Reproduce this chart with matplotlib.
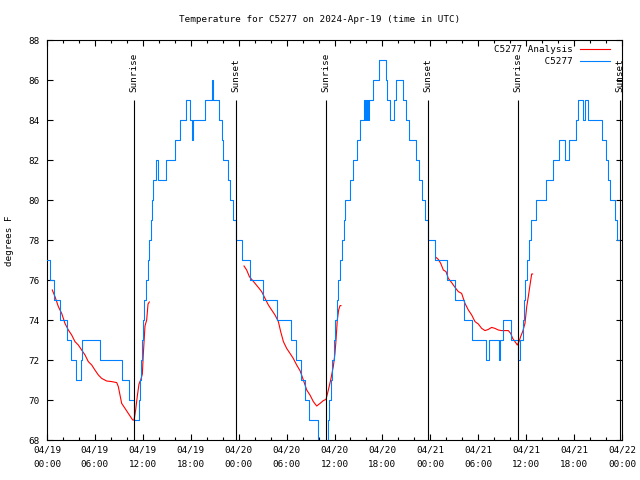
import numpy as np
import matplotlib
matplotlib.use('Agg')
import matplotlib.pyplot as plt
from matplotlib.lines import Line2D

plt.rcParams['font.family'] = ['DejaVu Sans Mono', 'DejaVu Sans']
FS = 6.7

# ---------------- data (hours since 2024-04-19 00:00 UTC) ----------------
blue_hours = [0.00, 0.38, 0.88, 1.60, 2.54, 3.05, 3.60, 4.20, 4.40, 6.60, 9.35, 10.30,
              10.95, 11.50, 11.65, 11.77, 11.90, 12.02, 12.15, 12.36, 12.60, 12.77, 12.98,
              13.15, 13.31, 13.60, 13.94, 14.95, 16.00, 16.60, 17.35, 17.85, 18.10, 18.30,
              19.80, 20.60, 20.75, 21.50, 21.95, 22.10, 22.65, 22.95, 23.30, 23.70, 24.40,
              25.40, 27.10, 28.80, 30.60, 31.18, 31.80, 32.30, 32.85, 33.90, 35.02, 35.19,
              35.35, 35.50, 35.69, 35.88, 36.06, 36.28, 36.48, 36.69, 36.90, 37.15, 37.35,
              37.94, 38.36, 38.78, 39.19, 39.70, 39.80, 39.92, 40.02, 40.12, 40.22, 40.33,
              40.85, 41.55, 42.45, 42.60, 43.00, 43.50, 43.75, 44.55, 44.95, 45.30, 46.24,
              46.62, 46.96, 47.37, 47.71, 48.62, 50.09, 51.06, 52.18, 53.22, 54.97, 55.31,
              56.56, 56.76, 57.10, 58.06, 58.98, 59.25, 59.55, 59.75, 59.90, 60.10, 60.30,
              60.60, 61.20, 62.50, 63.30, 64.15, 64.85, 65.35, 66.20, 66.50, 67.10, 67.40,
              67.70, 69.50, 69.95, 70.25, 70.50, 71.10, 71.40, 71.75]
blue_temps = [77, 76, 75, 74, 73, 72, 71, 72, 73, 72, 71, 70,
              69, 70, 71, 72, 73, 74, 75, 76, 77, 78, 79,
              80, 81, 82, 81, 82, 83, 84, 85, 84, 83, 84,
              85, 86, 85, 84, 83, 82, 81, 80, 79, 78, 77,
              76, 75, 74, 73, 72, 71, 70, 69, 67, 68, 69,
              70, 71, 72, 73, 74, 75, 76, 77, 78, 79, 80,
              81, 82, 83, 84, 85, 84, 85, 84, 85, 84, 85,
              86, 87, 86, 85, 84, 85, 86, 85, 84, 83, 82,
              81, 80, 79, 78, 77, 76, 75, 74, 73, 72, 73,
              72, 73, 74, 73, 72, 73, 74, 75, 76, 77, 78,
              79, 80, 81, 82, 83, 82, 83, 84, 85, 84, 85,
              84, 83, 82, 81, 80, 79, 78, 78]

red_hours = [0.66, 1.00, 1.42, 1.84, 2.25, 2.67, 3.09, 3.50, 3.92, 4.34, 4.76, 5.17, 5.60,
             6.00, 6.43, 6.85, 7.47, 8.10, 8.73, 8.93, 9.35, 9.77, 10.18, 10.73, 10.90,
             11.10, 11.31, 11.52, 11.73, 11.94, 12.06, 12.27, 12.48, 12.65, 12.81,
             np.nan,
             24.67, 25.00, 25.34, 25.63, 26.05, 26.46, 26.88, 27.30, 27.72, 28.13, 28.55,
             28.97, 29.26, 29.60, 30.01, 30.43, 30.84, 31.26, 31.68, 32.10, 32.52, 32.93,
             33.35, 33.77, 34.19, 34.60, 34.94, 35.23, 35.52, 35.85, 36.06, 36.19, 36.35,
             36.52, 36.69, 36.81,
             np.nan,
             48.71, 49.00, 49.30, 49.63, 49.96, 50.25, 50.67, 51.09, 51.50, 51.92, 52.34,
             52.76, 53.18, 53.59, 54.01, 54.43, 54.85, 55.26, 55.68, 56.10, 56.51, 56.93,
             57.35, 57.77, 58.06, 58.31, 58.60, 58.89, 59.10, 59.31, 59.56, 59.85, 60.07,
             60.27, 60.48, 60.69, 60.81]
red_temps = [75.5, 75.17, 74.67, 74.33, 73.83, 73.5, 73.25, 72.92, 72.75, 72.5, 72.25, 71.92, 71.75,
             71.5, 71.25, 71.08, 70.95, 70.92, 70.87, 70.67, 69.83, 69.58, 69.33, 69.0, 69.0,
             69.5, 70.2, 70.8, 71.0, 71.3, 72.3, 73.7, 74.0, 74.8, 74.9,
             np.nan,
             76.7, 76.5, 76.17, 76.03, 75.83, 75.63, 75.42, 75.08, 74.75, 74.5, 74.25,
             73.92, 73.42, 72.92, 72.58, 72.33, 72.08, 71.75, 71.47, 71.0, 70.5, 70.25,
             69.92, 69.7, 69.83, 69.97, 70.03, 70.5, 71.0, 71.67, 72.33, 73.0, 74.0,
             74.5, 74.72, 74.72,
             np.nan,
             77.13, 77.03, 76.83, 76.5, 76.42, 76.08, 75.87, 75.63, 75.42, 75.33, 74.83,
             74.5, 74.25, 73.92, 73.8, 73.58, 73.47, 73.53, 73.63, 73.58, 73.5, 73.47,
             73.47, 73.47, 73.33, 73.08, 72.92, 72.75, 72.92, 73.17, 73.42, 73.83, 74.67,
             75.17, 75.75, 76.3, 76.3]

sun_hours = [10.93, 23.70, 34.97, 47.72, 58.92, 71.76]
sun_labels = ['Sunrise', 'Sunset', 'Sunrise', 'Sunset', 'Sunrise', 'Sunset']

xtick_hours = list(range(0, 73, 6))
xtick_labels = ['04/19\n00:00', '04/19\n06:00', '04/19\n12:00', '04/19\n18:00',
                '04/20\n00:00', '04/20\n06:00', '04/20\n12:00', '04/20\n18:00',
                '04/21\n00:00', '04/21\n06:00', '04/21\n12:00', '04/21\n18:00',
                '04/22\n00:00']
ytick_vals = list(range(68, 89, 2))

RED = '#ff0000'
BLUE = '#0080ff'
LW = 0.8

fig = plt.figure(figsize=(6.4, 4.8), dpi=100)
ax = fig.add_axes([47/640, 40/480, 575/640, 400/480])

ax.plot(red_hours, red_temps, color=RED, lw=LW, label='C5277 Analysis', zorder=2)
ax.step(blue_hours, blue_temps, where='post', color=BLUE, lw=LW, label='C5277', zorder=3)

ax.vlines(sun_hours, 68, 85, color='black', lw=LW, zorder=4)
for h, s in zip(sun_hours, sun_labels):
    ax.text(h, 85.4, s, rotation=90, ha='center', va='bottom', fontsize=FS,
            clip_on=False, zorder=4)

ax.set_xlim(0, 72)
ax.set_ylim(68, 88)
ax.set_xticks(xtick_hours)
ax.set_xticklabels(xtick_labels, linespacing=1.75)
ax.set_xticks(list(range(0, 73, 2)), minor=True)
ax.set_yticks(ytick_vals)
ax.tick_params(which='both', direction='in', top=True, right=True, labelsize=FS, width=LW)
ax.tick_params(which='major', length=4.5)
ax.tick_params(which='minor', length=2.2)
ax.tick_params(axis='x', pad=4)
ax.tick_params(axis='y', pad=5)
for sp in ax.spines.values():
    sp.set_linewidth(LW)

h_red = Line2D([], [], color=RED, lw=LW)
h_blue = Line2D([], [], color=BLUE, lw=LW)
ax.legend([h_red, h_blue], ['C5277 Analysis', '         C5277'], loc='upper right',
          bbox_to_anchor=((610-47)/575, (440-45)/400), borderaxespad=0, borderpad=0,
          frameon=False, markerfirst=False, fontsize=FS, handlelength=3.2,
          handletextpad=0.85, labelspacing=0.3)

fig.text(320/640, 1-19/480, 'Temperature for C5277 on 2024-Apr-19 (time in UTC)',
         ha='center', va='center', fontsize=FS)
fig.text(10/640, 1-241/480, 'degrees F', rotation=90, ha='center', va='center', fontsize=FS)

fig.savefig('out.png', dpi=100)
